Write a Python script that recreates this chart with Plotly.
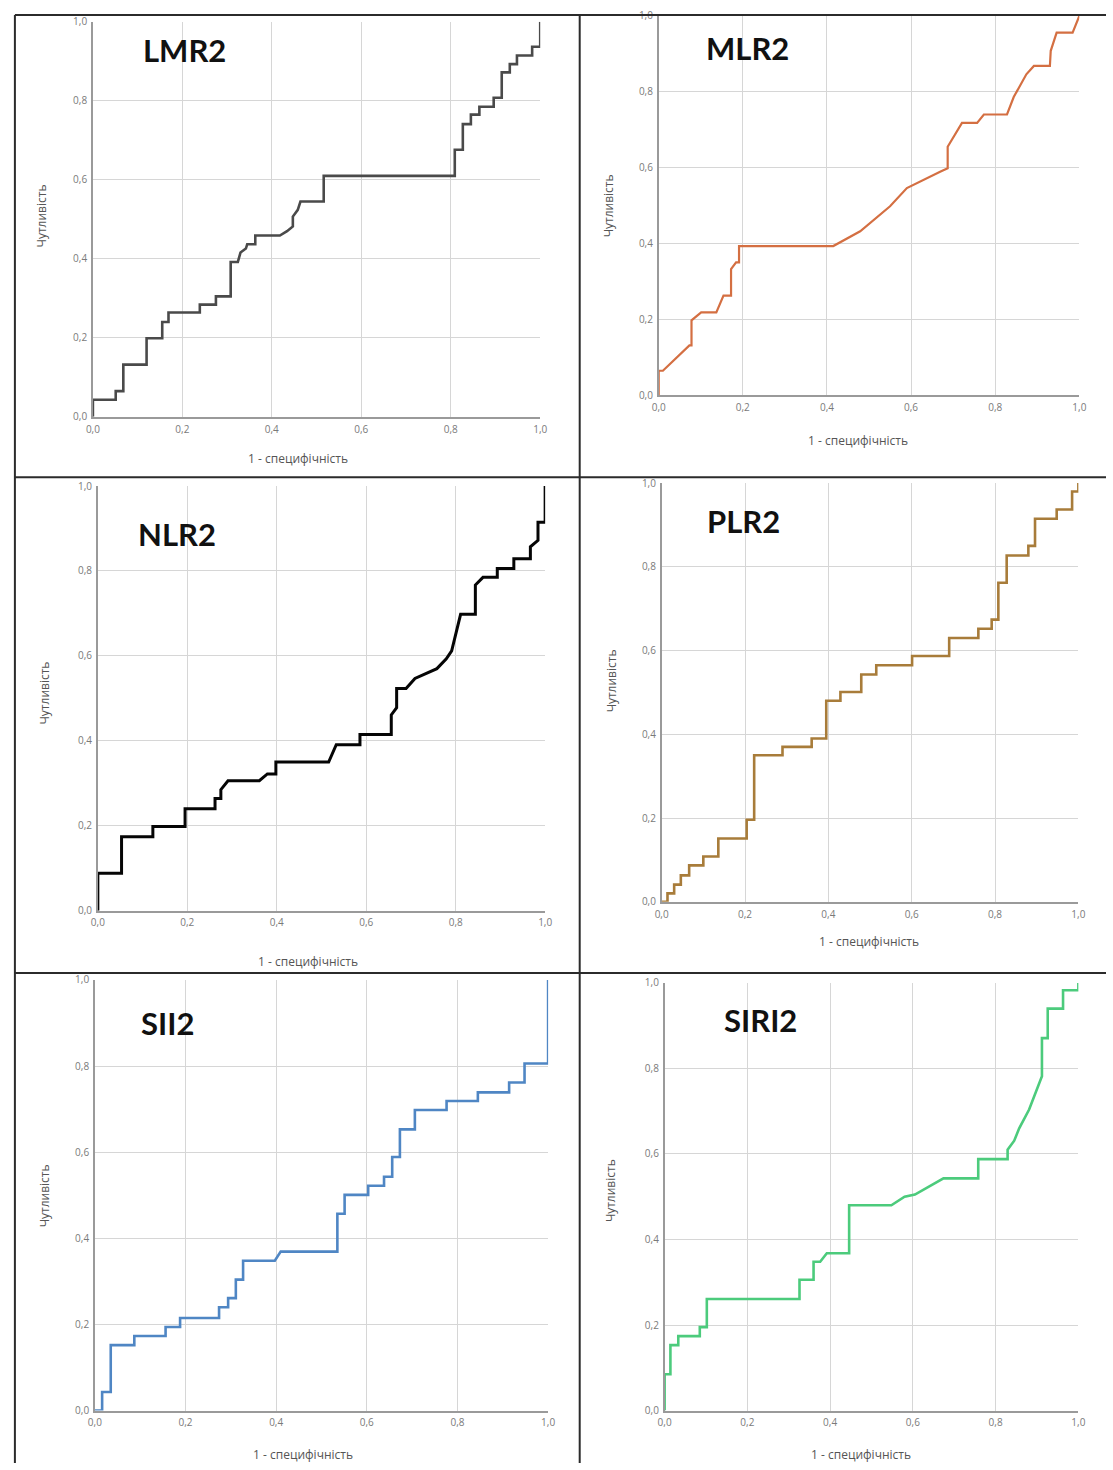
import plotly.graph_objects as go

W, H = 1113, 1470

# ---------------- data ----------------
tick_vals = [0.0, 0.2, 0.4, 0.6, 0.8, 1.0]
tick_text = ["0,0", "0,2", "0,4", "0,6", "0,8", "1,0"]
x_title = "1 - специфічність"
y_title = "Чутливість"

panel_names = ["LMR2", "MLR2", "NLR2", "PLR2", "SII2", "SIRI2"]

lmr2_fpr = [0, 0, 0.051, 0.051, 0.068, 0.068, 0.12, 0.12, 0.155, 0.155, 0.169, 0.169, 0.239, 0.239,
            0.275, 0.275, 0.308, 0.308, 0.324, 0.330, 0.342, 0.345, 0.363, 0.363, 0.418, 0.434, 0.447,
            0.447, 0.458, 0.464, 0.464, 0.516, 0.516, 0.809, 0.809, 0.827, 0.827, 0.845, 0.845, 0.864,
            0.864, 0.896, 0.896, 0.914, 0.914, 0.932, 0.932, 0.948, 0.948, 0.982, 0.982, 1.0, 1.0]
lmr2_tpr = [0, 0.043, 0.043, 0.065, 0.065, 0.132, 0.132, 0.199, 0.199, 0.24, 0.24, 0.264, 0.264, 0.284,
            0.284, 0.305, 0.305, 0.392, 0.392, 0.416, 0.426, 0.437, 0.437, 0.459, 0.459, 0.47, 0.482,
            0.507, 0.524, 0.545, 0.545, 0.545, 0.610, 0.610, 0.676, 0.676, 0.741, 0.741, 0.765, 0.765,
            0.785, 0.785, 0.808, 0.808, 0.872, 0.872, 0.893, 0.893, 0.915, 0.915, 0.937, 0.937, 1.0]

mlr2_fpr = [0, 0, 0.010, 0.073, 0.078, 0.078, 0.101, 0.137, 0.154, 0.172, 0.172, 0.184, 0.191, 0.191,
            0.415, 0.479, 0.55, 0.59, 0.669, 0.687, 0.687, 0.721, 0.757, 0.773, 0.828, 0.844, 0.874,
            0.892, 0.930, 0.932, 0.946, 0.984, 1.0]
mlr2_tpr = [0, 0.064, 0.064, 0.131, 0.131, 0.197, 0.218, 0.218, 0.262, 0.262, 0.332, 0.35, 0.35, 0.393,
            0.393, 0.432, 0.498, 0.546, 0.589, 0.598, 0.655, 0.718, 0.718, 0.74, 0.74, 0.786, 0.846,
            0.868, 0.868, 0.908, 0.956, 0.956, 1.0]

nlr2_fpr = [0, 0, 0.053, 0.053, 0.123, 0.123, 0.195, 0.195, 0.262, 0.262, 0.275, 0.275, 0.291, 0.361,
            0.379, 0.398, 0.398, 0.516, 0.533, 0.586, 0.586, 0.656, 0.656, 0.668, 0.668, 0.689, 0.709,
            0.758, 0.779, 0.791, 0.811, 0.844, 0.844, 0.861, 0.893, 0.893, 0.930, 0.930, 0.967, 0.967,
            0.984, 0.984, 1.0, 1.0]
nlr2_tpr = [0, 0.088, 0.088, 0.174, 0.174, 0.198, 0.198, 0.240, 0.240, 0.264, 0.264, 0.285, 0.306, 0.306,
            0.322, 0.322, 0.35, 0.35, 0.391, 0.391, 0.415, 0.415, 0.461, 0.478, 0.523, 0.523, 0.547,
            0.57, 0.593, 0.612, 0.698, 0.698, 0.767, 0.785, 0.785, 0.806, 0.806, 0.829, 0.829, 0.857,
            0.872, 0.915, 0.915, 1.0]

plr2_fpr = [0, 0.014, 0.014, 0.03, 0.03, 0.046, 0.046, 0.066, 0.066, 0.10, 0.10, 0.136, 0.136, 0.204,
            0.204, 0.222, 0.222, 0.29, 0.29, 0.36, 0.36, 0.395, 0.395, 0.429, 0.429, 0.479, 0.479, 0.515,
            0.515, 0.601, 0.601, 0.69, 0.69, 0.76, 0.76, 0.792, 0.792, 0.808, 0.808, 0.828, 0.828, 0.88,
            0.88, 0.896, 0.896, 0.948, 0.948, 0.985, 0.985, 1.0, 1.0]
plr2_tpr = [0, 0, 0.02, 0.02, 0.041, 0.041, 0.063, 0.063, 0.087, 0.087, 0.108, 0.108, 0.151, 0.151,
            0.196, 0.196, 0.35, 0.35, 0.37, 0.37, 0.39, 0.39, 0.48, 0.48, 0.501, 0.501, 0.543, 0.543,
            0.565, 0.565, 0.587, 0.587, 0.63, 0.63, 0.652, 0.652, 0.674, 0.674, 0.762, 0.762, 0.827,
            0.827, 0.85, 0.85, 0.915, 0.915, 0.937, 0.937, 0.98, 0.98, 1.0]

sii2_fpr = [0, 0.016, 0.016, 0.035, 0.035, 0.087, 0.087, 0.156, 0.156, 0.188, 0.188, 0.274, 0.274, 0.294,
            0.294, 0.311, 0.311, 0.327, 0.327, 0.397, 0.41, 0.535, 0.535, 0.551, 0.551, 0.603, 0.603,
            0.638, 0.638, 0.656, 0.656, 0.673, 0.673, 0.706, 0.706, 0.776, 0.776, 0.845, 0.845, 0.914,
            0.914, 0.948, 0.948, 1.0, 1.0]
sii2_tpr = [0, 0, 0.043, 0.043, 0.152, 0.152, 0.173, 0.173, 0.194, 0.194, 0.215, 0.215, 0.24, 0.24, 0.261,
            0.261, 0.304, 0.304, 0.348, 0.348, 0.369, 0.369, 0.457, 0.457, 0.501, 0.501, 0.522, 0.522,
            0.543, 0.543, 0.589, 0.589, 0.653, 0.653, 0.698, 0.698, 0.719, 0.719, 0.739, 0.739, 0.762,
            0.762, 0.806, 0.806, 1.0]

siri2_fpr = [0, 0, 0.014, 0.014, 0.033, 0.033, 0.085, 0.085, 0.102, 0.102, 0.326, 0.326, 0.36, 0.36,
             0.376, 0.392, 0.446, 0.446, 0.548, 0.580, 0.605, 0.637, 0.674, 0.758, 0.758, 0.829, 0.829,
             0.845, 0.857, 0.881, 0.912, 0.912, 0.926, 0.926, 0.963, 0.963, 1.0, 1.0]
siri2_tpr = [0, 0.085, 0.085, 0.153, 0.153, 0.174, 0.174, 0.195, 0.195, 0.261, 0.261, 0.306, 0.306, 0.348,
             0.348, 0.368, 0.368, 0.48, 0.48, 0.5, 0.505, 0.522, 0.543, 0.543, 0.588, 0.588, 0.61,
             0.631, 0.66, 0.704, 0.782, 0.871, 0.871, 0.94, 0.94, 0.983, 0.983, 1.0]

curves_fpr = [lmr2_fpr, mlr2_fpr, nlr2_fpr, plr2_fpr, sii2_fpr, siri2_fpr]
curves_tpr = [lmr2_tpr, mlr2_tpr, nlr2_tpr, plr2_tpr, sii2_tpr, siri2_tpr]

# ---------------- styles / layout ----------------
line_colors = ["#4a4a4a", "#d46f42", "#050505", "#a87c3a", "#4f86c4", "#4ccb7c"]
line_widths = [2.6, 2.2, 3.0, 2.6, 2.6, 2.6]

# plot areas in pixels: x0, x1, ytop, ybottom
areas = [(87, 540, 14, 413), (660, 1086, 8, 391),
         (92, 545, 483, 912), (663, 1085, 480, 903),
         (89, 548, 982, 1417), (666, 1085, 985, 1417)]
# panel label centers
label_pos = [(180, 42), (750, 40), (172, 531), (746, 518), (163, 1025), (763, 1022)]
# axis title centers
xtitle_pos = [(295, 455), (862, 437), (305, 963), (873, 943), (300, 1461), (865, 1461)]
ytitle_pos = [(35, 210), (610, 200), (38, 692), (612, 680), (38, 1200), (612, 1195)]


def px(x):
    return x / W


def py(y):
    return 1 - y / H


fig = go.Figure()
annotations = []
shapes = []
layout_axes = {}

for i in range(6):
    n = i + 1
    xa = "x" if n == 1 else f"x{n}"
    ya = "y" if n == 1 else f"y{n}"
    x0, x1, yt, yb = areas[i]
    fig.add_trace(go.Scatter(
        x=curves_fpr[i], y=curves_tpr[i], mode="lines",
        line=dict(color=line_colors[i], width=line_widths[i]),
        xaxis=xa, yaxis=ya, showlegend=False, hoverinfo="skip"))
    axis_common = dict(range=[0, 1], tickvals=tick_vals, ticktext=tick_text,
                       showgrid=True, gridcolor="#d6d6d6", gridwidth=1,
                       zeroline=False, showline=True, linecolor="#9a9a9a", linewidth=1.5,
                       ticks="", tickfont=dict(family="Open Sans", size=10, color="#7a7a7a"),
                       fixedrange=True)
    layout_axes["xaxis" if n == 1 else f"xaxis{n}"] = dict(
        axis_common, domain=[px(x0), px(x1)], anchor=ya, ticklabelstandoff=2)
    layout_axes["yaxis" if n == 1 else f"yaxis{n}"] = dict(
        axis_common, domain=[py(yb), py(yt)], anchor=xa, ticklabelstandoff=2)

    lx, ly = label_pos[i]
    annotations.append(dict(x=px(lx), y=py(ly), xref="paper", yref="paper",
                            text=f"<b>{panel_names[i]}</b>", showarrow=False,
                            font=dict(family="Lato", size=31, color="#111111"),
                            xanchor="center", yanchor="middle"))
    tx, ty = xtitle_pos[i]
    annotations.append(dict(x=px(tx), y=py(ty), xref="paper", yref="paper",
                            text=x_title, showarrow=False,
                            font=dict(family="Open Sans", size=12, color="#555555"),
                            xanchor="center", yanchor="middle"))
    sx, sy = ytitle_pos[i]
    annotations.append(dict(x=px(sx), y=py(sy), xref="paper", yref="paper",
                            text=y_title, showarrow=False, textangle=-90,
                            font=dict(family="Open Sans", size=12, color="#555555"),
                            xanchor="center", yanchor="middle"))

# panel border lines
border = dict(type="line", xref="paper", yref="paper", line=dict(color="#2b2b2b", width=2))
shapes.append(dict(border, x0=px(8), x1=px(W), y0=py(7), y1=py(7)))
shapes.append(dict(border, x0=px(8), x1=px(8), y0=py(7), y1=py(H)))
shapes.append(dict(border, x0=px(580), x1=px(580), y0=py(7), y1=py(H)))
shapes.append(dict(border, x0=px(8), x1=px(W), y0=py(474), y1=py(474)))
shapes.append(dict(border, x0=px(8), x1=px(W), y0=py(975), y1=py(975)))

fig.update_layout(width=W, height=H, margin=dict(l=0, r=0, t=0, b=0),
                  paper_bgcolor="white", plot_bgcolor="white",
                  annotations=annotations, shapes=shapes, **layout_axes)

fig.write_html("out.html", config={"displayModeBar": False},
               post_script="document.body.style.margin='0';document.body.style.overflow='hidden';")
